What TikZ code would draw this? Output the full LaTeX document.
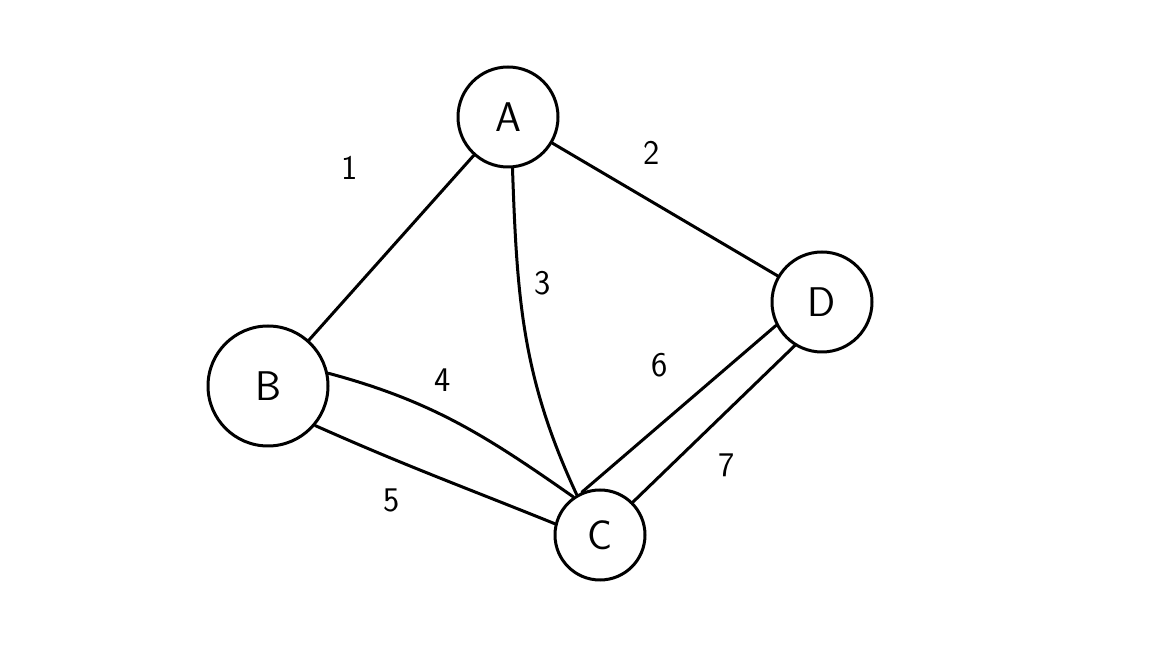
\documentclass[tikz,border=0pt]{standalone}
\usepackage{tikz}
\usetikzlibrary{arrows.meta,positioning}

\begin{document}
\begin{tikzpicture}[x=0.5pt, y=0.5pt,
      vert/.style={draw, circle, line width=1.5pt, inner sep=0pt,
                   font=\sffamily\huge},
      edge/.style={line width=1.5pt, line cap=round},
      lbl/.style={font=\sffamily\LARGE}
    ]
    \useasboundingbox (0,0) rectangle (1152,648);

    \node[vert, minimum size=50pt] (A) at (508,531) {A};
    \node[vert, minimum size=60pt] (B) at (268,262) {B};
    \node[vert, minimum size=45pt] (C) at (600,113) {C};
    \node[vert, minimum size=50pt] (D) at (822,346) {D};

    \draw[edge] (A) -- (B);
    \draw[edge] (A) -- (D);
    \draw[edge] (A.-85) to[out=-88, in=115] (C.120);
    \draw[edge] (B.12) to[out=-15, in=145] (C.125);
    \draw[edge] (B.-40) to[out=-24, in=158] (C.166);
    \draw[edge] (C.113) -- (D.207);
    \draw[edge] (C.45) -- (D.238);

    \node[lbl] (l1) at (350,480) {1};
    \node[lbl] (l2) at (652,495) {2};
    \node[lbl] (l3) at (543,365) {3};
    \node[lbl] (l4) at (443,268) {4};
    \node[lbl] (l5) at (392,148) {5};
    \node[lbl] (l6) at (660,283) {6};
    \node[lbl] (l7) at (727,183) {7};
  \end{tikzpicture}
\end{document}
